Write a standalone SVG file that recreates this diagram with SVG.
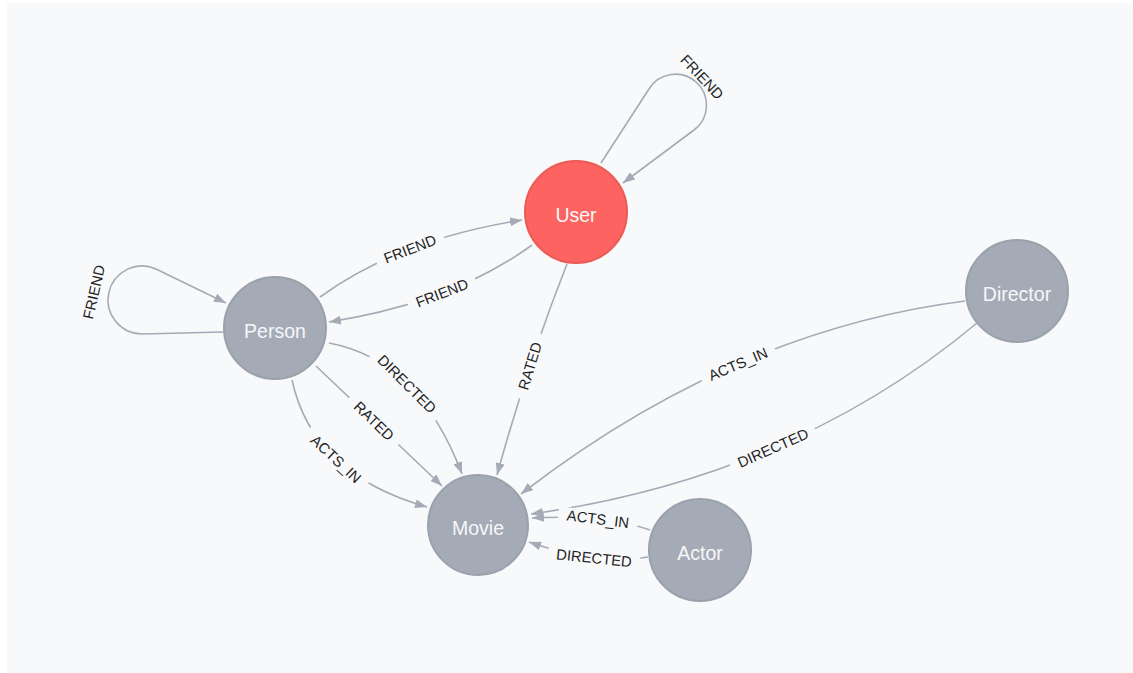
<svg xmlns="http://www.w3.org/2000/svg" width="1133" height="673" viewBox="0 0 1133 673">
<style>
.edge{fill:none;stroke:#a5abb6;stroke-width:1.6;marker-end:url(#arr)}
.lbl{font-family:"Liberation Sans",Arial,sans-serif;font-size:14.8px;fill:#1e1e1e;text-anchor:middle}
.lbg{fill:#f8f9fb}
.node{fill:#a5abb6;stroke:#9aa1ac;stroke-width:2}
.user{fill:#fd6360;stroke:#ec5a58;stroke-width:2}
.ntxt{font-family:"Liberation Sans",Arial,sans-serif;font-size:19.5px;fill:#f6f7f9;text-anchor:middle}
</style>
<defs>
<marker id="arr" markerUnits="userSpaceOnUse" viewBox="0 0 12 9" refX="12" refY="4.5" markerWidth="12" markerHeight="9" orient="auto">
<path d="M0,0 L12,4.5 L0,9 z" fill="#a5abb6"/>
</marker>
</defs>
<rect x="0" y="0" width="1133" height="673" fill="#ffffff"/>
<rect x="7" y="3" width="1126" height="670" fill="#f8f9fb"/>
<g id="connectors">
<g id="e-user-loop">
<path class="edge" d="M601,163 L649,89 A31 31 0 1 1 694,130 L623,183"/>
<text class="lbl" transform="translate(702,77) rotate(47)" dy="0.35em">FRIEND</text>
</g>
<g id="e-person-loop">
<path class="edge" d="M223,332 L142,334 A34 34 0 1 1 156,269 L226,303"/>
<text class="lbl" transform="translate(94,292) rotate(-77)" dy="0.35em">FRIEND</text>
</g>
<g id="e-person-user">
<path class="edge" d="M320,297 Q399,239.5 522,220"/>
<g transform="translate(410,249) rotate(-21)"><rect class="lbg" x="-36" y="-8" width="72" height="16"/><text class="lbl" dy="0.35em">FRIEND</text></g>
</g>
<g id="e-user-person">
<path class="edge" d="M532,245 Q453.5,302.5 329,322"/>
<g transform="translate(442,293) rotate(-21)"><rect class="lbg" x="-36" y="-8" width="72" height="16"/><text class="lbl" dy="0.35em">FRIEND</text></g>
</g>
<g id="e-user-movie">
<path class="edge" d="M567,264 Q528,362.5 497,475"/>
<g transform="translate(530,366) rotate(-73)"><rect class="lbg" x="-34" y="-8" width="68" height="16"/><text class="lbl" dy="0.35em">RATED</text></g>
</g>
<g id="e-person-movie-directed">
<path class="edge" d="M329,343 Q418.5,359.5 462,474"/>
<g transform="translate(407,384) rotate(45)"><rect class="lbg" x="-46" y="-8" width="92" height="16"/><text class="lbl" dy="0.35em">DIRECTED</text></g>
</g>
<g id="e-person-movie-rated">
<path class="edge" d="M316,366 L442,486"/>
<g transform="translate(374,421) rotate(44)"><rect class="lbg" x="-34" y="-8" width="68" height="16"/><text class="lbl" dy="0.35em">RATED</text></g>
</g>
<g id="e-person-movie-acts">
<path class="edge" d="M292,380 Q312.5,474.5 427,507"/>
<g transform="translate(336,459) rotate(43)"><rect class="lbg" x="-40" y="-8" width="80" height="16"/><text class="lbl" dy="0.35em">ACTS_IN</text></g>
</g>
<g id="e-director-movie-acts">
<path class="edge" d="M965,301 Q733,330.5 521,494"/>
<g transform="translate(738,364) rotate(-23)"><rect class="lbg" x="-40" y="-8" width="80" height="16"/><text class="lbl" dy="0.35em">ACTS_IN</text></g>
</g>
<g id="e-director-movie-directed">
<path class="edge" d="M977,323 Q792,477.5 531,514"/>
<g transform="translate(773,448) rotate(-24)"><rect class="lbg" x="-46" y="-8" width="92" height="16"/><text class="lbl" dy="0.35em">DIRECTED</text></g>
</g>
<g id="e-actor-movie-acts">
<path class="edge" d="M650,530 Q605,514 532,518"/>
<g transform="translate(598,519) rotate(7)"><rect class="lbg" x="-40" y="-8" width="80" height="16"/><text class="lbl" dy="0.35em">ACTS_IN</text></g>
</g>
<g id="e-actor-movie-directed">
<path class="edge" d="M648,557 Q599.5,566.5 529,542"/>
<g transform="translate(594,558) rotate(6)"><rect class="lbg" x="-46" y="-8" width="92" height="16"/><text class="lbl" dy="0.35em">DIRECTED</text></g>
</g>
</g>
<g id="node-user"><circle class="user" cx="576" cy="212" r="51"/><text class="ntxt" x="576" y="212" dy="0.5em">User</text></g>
<g id="node-person"><circle class="node" cx="275" cy="328" r="51"/><text class="ntxt" x="275" y="328" dy="0.5em">Person</text></g>
<g id="node-director"><circle class="node" cx="1017" cy="291" r="51"/><text class="ntxt" x="1017" y="291" dy="0.5em">Director</text></g>
<g id="node-movie"><circle class="node" cx="478" cy="525" r="50"/><text class="ntxt" x="478" y="525" dy="0.5em">Movie</text></g>
<g id="node-actor"><circle class="node" cx="700" cy="550" r="51"/><text class="ntxt" x="700" y="550" dy="0.5em">Actor</text></g>
</svg>
